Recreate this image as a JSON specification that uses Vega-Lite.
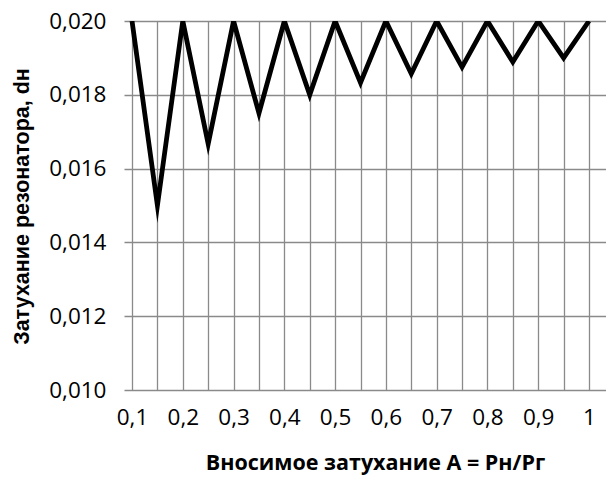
{
  "$schema": "https://vega.github.io/schema/vega-lite/v6.json",
  "autosize": "none",
  "width": 482,
  "height": 369,
  "padding": {"left": 124, "top": 21, "right": 0, "bottom": 90},
  "background": "white",
  "config": {"view": {"stroke": null}},
  "data": {"values": [
    {"A": 0.10, "d": 0.020},
    {"A": 0.15, "d": 0.0150},
    {"A": 0.20, "d": 0.020},
    {"A": 0.25, "d": 0.01667},
    {"A": 0.30, "d": 0.020},
    {"A": 0.35, "d": 0.0175},
    {"A": 0.40, "d": 0.020},
    {"A": 0.45, "d": 0.0180},
    {"A": 0.50, "d": 0.020},
    {"A": 0.55, "d": 0.01833},
    {"A": 0.60, "d": 0.020},
    {"A": 0.65, "d": 0.01857},
    {"A": 0.70, "d": 0.020},
    {"A": 0.75, "d": 0.01875},
    {"A": 0.80, "d": 0.020},
    {"A": 0.85, "d": 0.01889},
    {"A": 0.90, "d": 0.020},
    {"A": 0.95, "d": 0.0190},
    {"A": 1.00, "d": 0.020}
  ]},
  "mark": {"type": "line", "color": "black", "strokeWidth": 4.8, "strokeJoin": "miter", "strokeMiterLimit": 10, "clip": true},
  "encoding": {
    "x": {
      "field": "A", "type": "quantitative",
      "scale": {"domain": [0.0842, 1.0335], "nice": false, "zero": false},
      "axis": {
        "values": [0.1, 0.15, 0.2, 0.25, 0.3, 0.35, 0.4, 0.45, 0.5, 0.55, 0.6, 0.65, 0.7, 0.75, 0.8, 0.85, 0.9, 0.95, 1.0],
        "labelExpr": "round(datum.value*20) % 2 == 1 ? '' : (datum.value >= 0.999 ? '1' : replace(format(datum.value, '.1f'), '.', ','))",
        "labelOverlap": false, "labelFlush": false, "labelBound": false,
        "labelFont": "Open Sans", "labelFontSize": 22.5, "labelColor": "#000000", "labelPadding": 16,
        "ticks": false, "domain": false,
        "grid": true, "gridColor": "#8a8a8a", "gridWidth": 1.3,
        "title": "Вносимое затухание A = Pн/Pг",
        "titleFont": "Open Sans", "titleFontSize": 21.5, "titleFontWeight": "bold", "titleColor": "#000000",
        "titleX": 251, "titleY": 73, "titleBaseline": "middle", "titleAlign": "center"
      }
    },
    "y": {
      "field": "d", "type": "quantitative",
      "scale": {"domain": [0.010, 0.020], "nice": false, "zero": false},
      "axis": {
        "values": [0.010, 0.012, 0.014, 0.016, 0.018, 0.020],
        "labelExpr": "replace(format(datum.value, '.3f'), '.', ',')",
        "labelFont": "Open Sans", "labelFontSize": 22.5, "labelColor": "#000000", "labelPadding": 18,
        "labelOverlap": false, "labelFlush": false, "labelBound": false,
        "ticks": false, "domain": false,
        "grid": true, "gridColor": "#8a8a8a", "gridWidth": 1.3,
        "title": "Затухание резонатора, dн",
        "titleFont": "Liberation Sans", "titleFontSize": 21.5, "titleFontWeight": "bold", "titleColor": "#000000",
        "titleX": -102, "titleY": 185, "titleBaseline": "middle", "titleAlign": "center", "titleAngle": -90
      }
    }
  }
}
